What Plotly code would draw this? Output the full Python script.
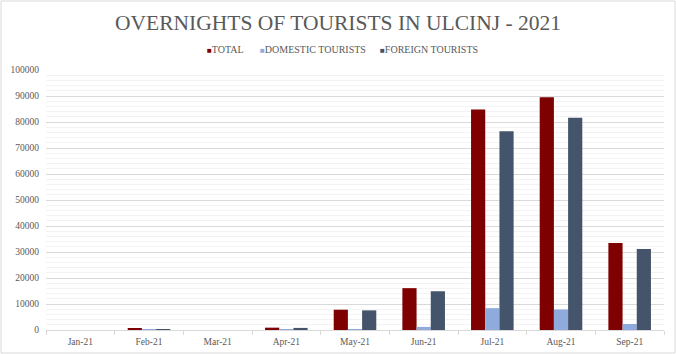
import plotly.graph_objects as go

months = ["Jan-21", "Feb-21", "Mar-21", "Apr-21", "May-21", "Jun-21", "Jul-21", "Aug-21", "Sep-21"]
total = [0, 400, 0, 900, 7800, 16100, 84800, 89500, 33500]
domestic = [0, 20, 0, 100, 250, 1200, 8400, 7900, 2300]
foreign = [0, 380, 0, 800, 7550, 14900, 76400, 81600, 31200]

series_names = ["TOTAL", "DOMESTIC TOURISTS", "FOREIGN TOURISTS"]
series_colors = ["#7f0000", "#8faadc", "#44546a"]

FONT = "Liberation Serif, Times New Roman, serif"

fig = go.Figure()
for name, vals, col in zip(series_names, [total, domestic, foreign], series_colors):
    fig.add_trace(go.Bar(x=months, y=vals, name=name, showlegend=False,
                         marker=dict(color=col, line=dict(width=0))))

W, H = 676, 354
L, R, T, B = 46, 12, 70, 24
pw, ph = W - L - R, H - T - B

# legend drawn as text items (small square marker + label)
legend_x = [205, 258, 378]
annotations = []
for name, col, lx in zip(series_names, series_colors, legend_x):
    annotations.append(dict(
        text=f"<span style='color:{col};font-size:8px'>■</span>{name}",
        xref="paper", yref="paper", x=(lx - L) / pw, y=(H - 49 - B) / ph,
        xanchor="left", yanchor="middle", showarrow=False,
        font=dict(family=FONT, size=10, color="#595959")))

fig.update_layout(
    width=W, height=H,
    margin=dict(l=L, r=R, t=T, b=B),
    paper_bgcolor="white", plot_bgcolor="white",
    barmode="group", bargap=0.38, bargroupgap=0,
    showlegend=False,
    font=dict(family=FONT, color="#595959", size=9),
    title=dict(text="OVERNIGHTS OF TOURISTS IN ULCINJ - 2021", x=0.5, xanchor="center",
               y=1 - 22 / H, yanchor="middle",
               font=dict(family=FONT, size=21.5, color="#595959")),
    annotations=annotations,
    xaxis=dict(showgrid=False, showline=True, linecolor="#d9d9d9", linewidth=1,
               ticks="outside", tickson="boundaries", ticklen=4, tickcolor="#d9d9d9",
               automargin=False,
               tickfont=dict(family=FONT, size=9.5, color="#595959"), ticklabelstandoff=3),
    yaxis=dict(range=[0, 100000], dtick=10000, tickformat="d", showgrid=True,
               gridcolor="#d9d9d9", gridwidth=1, zeroline=False, automargin=False,
               tickfont=dict(family=FONT, size=9.5, color="#595959"),
               minor=dict(dtick=2000, showgrid=True, gridcolor="#f3f3f3", gridwidth=1),
               ticklabelstandoff=6),
    shapes=[dict(type="rect", xref="paper", yref="paper",
                 x0=(-L + 1) / pw, x1=(pw + R - 1) / pw,
                 y0=(-B + 1) / ph, y1=(ph + T - 1) / ph,
                 line=dict(color="#d9d9d9", width=1), fillcolor="rgba(0,0,0,0)", layer="below")],
)

fig.write_html("out.html")
